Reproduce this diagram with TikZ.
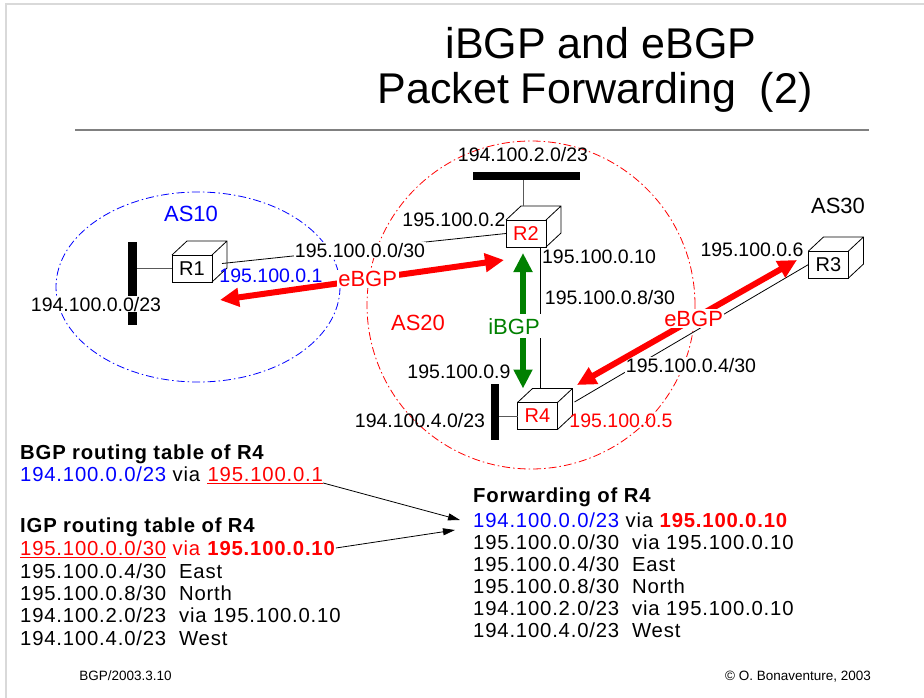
\documentclass[tikz,border=0pt]{standalone}
\usepackage{fontspec}
\setmainfont{Liberation Sans}
\newfontfamily\tabfont[LetterSpace=4]{Liberation Sans}
\usepackage{tikz}
\usetikzlibrary{shapes.geometric}
\usetikzlibrary{arrows.meta}
\usetikzlibrary{positioning}
\definecolor{ibgpgreen}{RGB}{0,128,0}
\definecolor{framegray}{gray}{0.85}
\definecolor{rulegray}{gray}{0.5}

\newcommand{\routerdepth}[1]{%
	\draw[line width=0.8pt] (#1.north west) -- ([shift={(15,-14)}]#1.north west) -- ([shift={(15,-14)}]#1.north east) -- ([shift={(15,-14)}]#1.south east) -- (#1.south east) (#1.north east) -- ([shift={(15,-14)}]#1.north east);
}

\begin{document}
\begin{tikzpicture}[x=1pt, y=-1pt,
	title/.style={font=\fontsize{43}{45}\selectfont, inner sep=0pt, anchor=base},
	lbl/.style={font=\fontsize{19.5}{21}\selectfont, inner sep=1pt, anchor=base},
	aslbl/.style={font=\fontsize{22}{24}\selectfont, inner sep=1.5pt, anchor=base},
	cut/.style={fill=white},
	asline/.style={line width=0.8pt, dash pattern=on 8pt off 3pt on 1.5pt off 3pt},
	router/.style={rectangle, draw, fill=white, line width=0.8pt, minimum width=40, minimum height=27, inner sep=0pt, outer sep=0pt, font=\fontsize{20}{21}\selectfont},
	lan/.style={rectangle, fill=black, inner sep=0pt, outer sep=0pt},
	link/.style={draw=black, line width=0.8pt},
	stub/.style={draw=black!65, line width=1pt},
	session/.style={line width=6pt, {Triangle[length=19pt,width=18pt]}-{Triangle[length=19pt,width=18pt]}},
	tab/.style={font=\tabfont\fontsize{20.3}{22}\selectfont, inner sep=0pt, anchor=base west},
	ptr/.style={line width=0.8pt, -{Triangle[length=12pt,width=7pt]}},
	foot/.style={font=\fontsize{13.5}{15}\selectfont, inner sep=0pt, anchor=base}]
	\useasboundingbox (0,0) rectangle (924,698);
	\draw[framegray, line width=2pt] (5.5,698) -- (5.5,4) -- (924,4);
	\node[title] (title1) at (601,59) {iBGP and eBGP};
	\node[title] (title2) at (595,104) {Packet Forwarding~~(2)};
	\draw[rulegray, line width=2pt] (75,130) -- (869,130);

	\node[ellipse, draw=blue, asline, minimum width=284, minimum height=190] (AS10) at (198,287) {};
	\node[circle, draw=red, asline, minimum size=328] (AS20) at (531,305) {};

	\node[router] (R1) at (192,268.5) {R1};
	\node[router, text=red] (R2) at (526,233.5) {R2};
	\node[router] (R3) at (828.5,264.5) {R3};
	\node[router, text=red] (R4) at (537.5,416) {R4};
	\routerdepth{R1}
	\routerdepth{R2}
	\routerdepth{R3}
	\routerdepth{R4}
	\coordinate (R2top) at ([shift={(-3,-14)}]R2.north);
	\coordinate (R4top) at ([shift={(15,-14)}]R4.north west);

	\node[lan, minimum width=9, minimum height=83] (lan1) at (132.5,283.5) {};
	\node[lan, minimum width=107, minimum height=8] (lan2) at (526,176) {};
	\node[lan, minimum width=8, minimum height=56] (lan4) at (495,412) {};
	\draw[stub] (lan1.east |- R1.west) -- (R1.west);
	\draw[stub] (lan4.east |- R4.west) -- (R4.west);
	\draw[stub] (R2top) -- (R2top |- lan2.south);

	\draw[link] ([shift={(10,-5)}]R1.east) -- (R2.west);
	\draw[link] ([xshift=14pt]R2.south) -- ([xshift=14pt]R2.south |- R4top);
	\draw[link] ([shift={(17,-14)}]R4.east) -- (R3.west);

	\node[aslbl, text=blue] (as10lbl) at (191,222) {AS10};
	\node[aslbl, text=red] (as20lbl) at (418,330) {AS20};
	\node[aslbl] (as30lbl) at (838,213) {AS30};
	\node[lbl, cut] (net10) at (96,311) {194.100.0.0/23};
	\node[lbl, text=blue] (ip1) at (271,282) {195.100.0.1};
	\node[lbl, cut] (net12) at (360,257) {195.100.0.0/30};
	\node[lbl] (ip2) at (454,226) {195.100.0.2};
	\node[lbl] (net20) at (523,162) {194.100.2.0/23};
	\node[lbl] (ip10) at (599,263) {195.100.0.10};
	\node[lbl] (net24) at (610,304) {195.100.0.8/30};
	\node[lbl] (ip9) at (459,378) {195.100.0.9};
	\node[lbl] (net21) at (420,427) {194.100.4.0/23};
	\node[lbl, text=red] (ip5) at (621,427) {195.100.0.5};
	\node[lbl, cut] (net43) at (691,372) {195.100.0.4/30};
	\node[lbl] (ip6) at (752,256) {195.100.0.6};

	\draw[session, red] ([shift={(8,18)}]R1.south east) -- ([shift={(-2,13)}]R2.south west) node[aslbl, cut, text=red, pos=0.52, anchor=center] (ebgp1) {eBGP};
	\draw[session, ibgpgreen] ([shift={(-3,6)}]R2.south) -- ([shift={(-14.5,-14)}]R4.north);
	\node[aslbl, cut, text=ibgpgreen, inner ysep=4pt] (ibgp) at (514,334) {iBGP};
	\draw[session, red] ([shift={(19.5,-17.5)}]R4.north east) -- ([shift={(-11.5,-4.5)}]R3.west) node[aslbl, cut, text=red, pos=0.53, anchor=center] (ebgp2) {eBGP};

	\node[tab] (fwdhead) at (473,502) {\textbf{Forwarding of R4}};
	\node[tab] (fwd1) at (473,527) {\textcolor{blue}{194.100.0.0/23} via \textcolor{red}{\textbf{195.100.0.10}}};
	\node[tab] (fwd2) at (473,549) {195.100.0.0/30~~via 195.100.0.10};
	\node[tab] (fwd3) at (473,571) {195.100.0.4/30~~East};
	\node[tab] (fwd4) at (473,593) {195.100.0.8/30~~North};
	\node[tab] (fwd5) at (473,615) {194.100.2.0/23~~via 195.100.0.10};
	\node[tab] (fwd6) at (473,637) {194.100.4.0/23~~West};

	\node[tab] (bgphead) at (20,459) {\textbf{BGP routing table of R4}};
	\node[tab] (bgp1) at (20,481) {\textcolor{blue}{194.100.0.0/23} via};
	\node[tab, text=red, right=7pt of bgp1.base east, anchor=base west] (bgpnh) {195.100.0.1};
	\draw[red, line width=1pt] ([yshift=-2pt]bgpnh.base west) -- ([yshift=-2pt]bgpnh.base east);

	\node[tab] (igphead) at (20,532) {\textbf{IGP routing table of R4}};
	\node[tab, text=red] (igp1) at (20,555) {195.100.0.0/30~};
	\node[tab, text=red, right=6pt of igp1.base east, anchor=base west] (igpnh) {via \textbf{195.100.0.10}};
	\draw[red, line width=1pt] ([yshift=-2pt]igp1.base west) -- ([yshift=-2pt]igp1.base east);
	\node[tab] (igp2) at (20,578) {195.100.0.4/30~~East};
	\node[tab] (igp3) at (20,600) {195.100.0.8/30~~North};
	\node[tab] (igp4) at (20,622.5) {194.100.2.0/23~~via 195.100.0.10};
	\node[tab] (igp5) at (20,645) {194.100.4.0/23~~West};

	\draw[ptr] ([yshift=-2pt]bgpnh.base east) -- ([shift={(-13,-7)}]fwd1.base west);
	\draw[ptr] ([shift={(0,-7)}]igpnh.base east) -- ([shift={(-18,3)}]fwd1.base west);

	\node[foot] (slideref) at (125.5,680) {BGP/2003.3.10};
	\node[foot] (author) at (798,680) {© O. Bonaventure, 2003};
\end{tikzpicture}
\end{document}
